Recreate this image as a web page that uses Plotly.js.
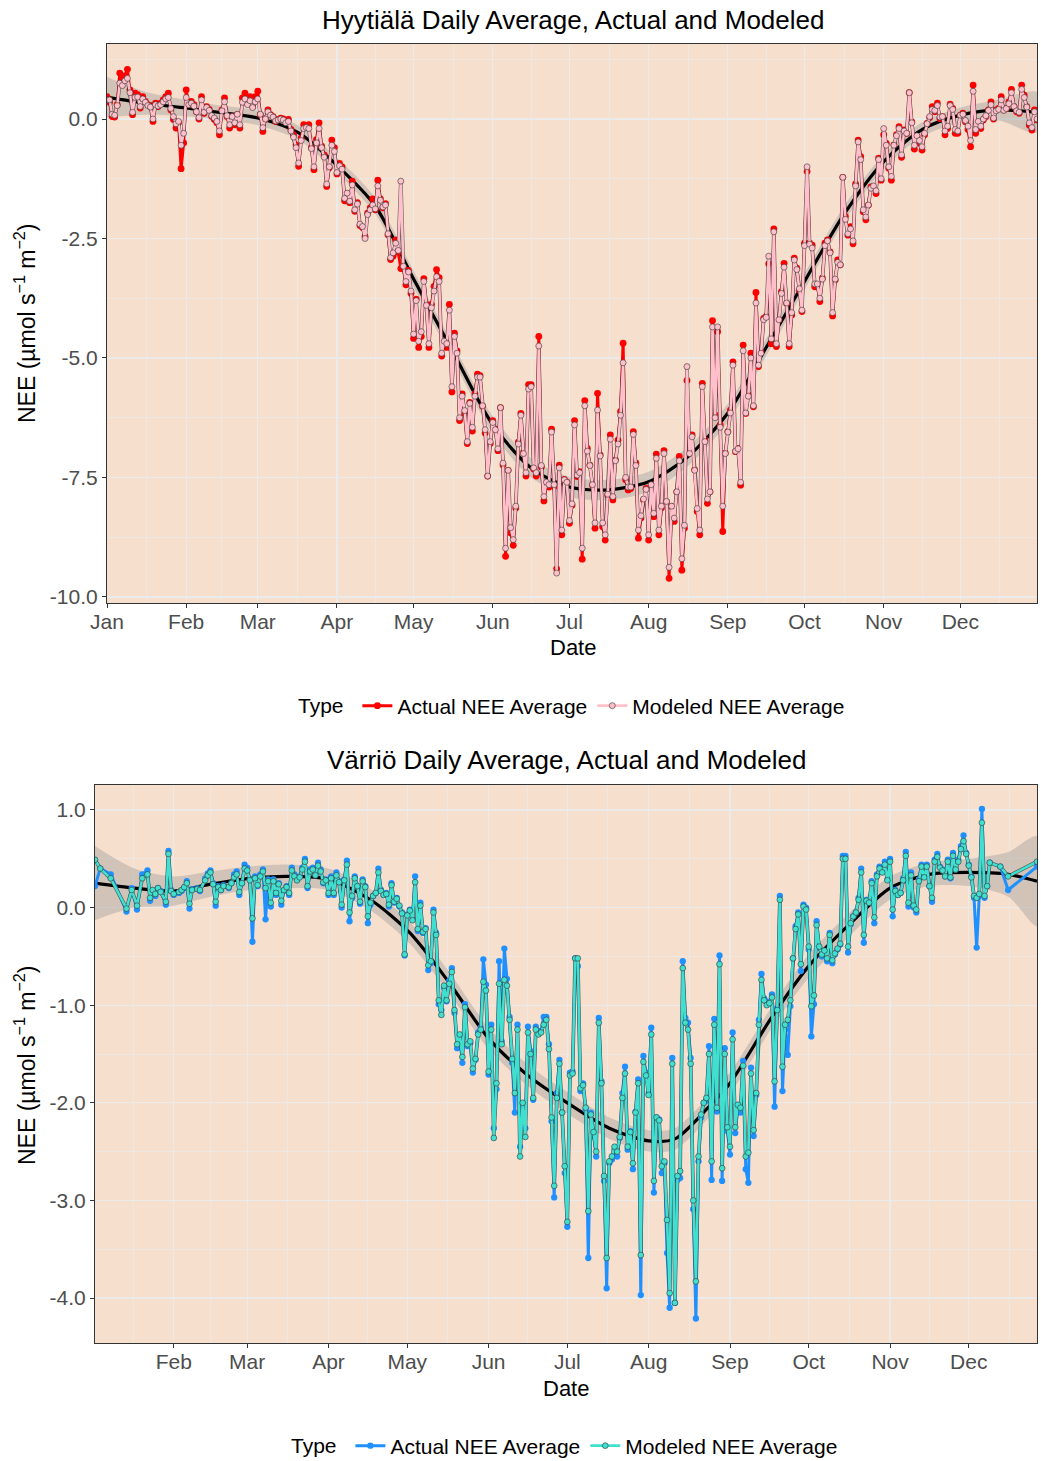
<!DOCTYPE html>
<html><head><meta charset="utf-8">
<script src="https://cdn.plot.ly/plotly-3.0.1.min.js"></script>
<style>html,body{margin:0;padding:0;background:#fff;width:1041px;height:1461px;overflow:hidden}#chart{display:block;width:1041px;height:1461px;overflow:hidden}</style>
</head><body><div id="chart"></div>
<script>
const YEAR = 2019;
const MONTH_LABELS = ['Jan','Feb','Mar','Apr','May','Jun','Jul','Aug','Sep','Oct','Nov','Dec'];
const HYY_Y_TICKS = [0, -2.5, -5, -7.5, -10];
const VAR_Y_TICKS = [1, 0, -1, -2, -3, -4];
const SERIES_NAMES = ['Actual NEE Average', 'Modeled NEE Average'];

// Hyytiälä daily values, day index 0 = Jan 1
const HYY_ACTUAL = [
0.47,0.35,0.05,0.04,0.30,0.96,0.82,0.90,1.04,0.61,
0.09,0.54,0.51,0.23,0.47,0.37,0.30,0.26,-0.05,0.33,
0.26,0.33,0.40,0.47,0.54,0.19,-0.01,-0.19,-0.08,-1.04,
-0.50,0.61,0.30,0.37,0.30,0.15,0.00,0.47,0.12,0.26,
0.20,0.05,-0.01,-0.08,-0.33,0.19,0.44,0.05,-0.19,0.05,
-0.12,0.09,-0.19,0.44,0.54,0.33,0.47,0.26,0.47,0.58,
0.09,-0.26,0.00,0.19,0.09,0.05,-0.05,-0.01,0.02,0.00,
-0.05,-0.01,-0.22,-0.33,-0.54,-0.99,-0.40,-0.12,-0.15,-0.12,
-0.60,-1.06,-0.43,-0.08,-0.57,-0.75,-1.41,-1.02,-0.44,-0.60,
-1.15,-0.93,-1.00,-1.71,-1.56,-1.75,-1.30,-1.93,-1.75,-2.23,
-2.27,-2.46,-1.97,-1.86,-1.67,-1.90,-1.28,-1.67,-1.86,-1.77,
-2.42,-2.94,-2.87,-2.53,-2.79,-3.13,-3.13,-3.47,-3.17,-3.65,
-4.59,-3.77,-4.78,-4.55,-3.34,-3.88,-4.78,-3.88,-3.50,-3.15,
-3.32,-4.96,-4.70,-4.78,-3.88,-5.71,-4.48,-4.85,-6.31,-5.75,
-6.16,-6.79,-5.93,-6.53,-5.75,-5.34,-5.37,-6.01,-6.57,-7.47,
-6.79,-6.31,-6.49,-6.94,-6.04,-7.24,-9.15,-7.35,-8.66,-8.92,
-8.14,-6.76,-6.16,-6.98,-7.47,-5.56,-5.56,-7.32,-7.47,-4.55,
-7.28,-7.99,-7.65,-7.70,-6.49,-7.69,-9.41,-7.24,-8.70,-7.54,
-7.60,-8.46,-8.08,-6.31,-7.48,-7.38,-9.21,-5.89,-6.89,-7.24,
-7.66,-8.56,-5.74,-7.03,-8.53,-8.81,-7.87,-6.61,-7.97,-7.13,
-6.72,-6.12,-4.69,-7.55,-7.76,-7.73,-6.54,-7.20,-8.77,-8.35,
-7.97,-7.73,-8.81,-7.66,-8.32,-7.01,-8.70,-8.14,-6.94,-8.01,
-9.61,-8.11,-8.42,-7.80,-7.06,-9.44,-8.56,-5.47,-6.99,-6.61,
-7.34,-8.21,-8.70,-5.53,-6.72,-8.04,-7.80,-4.22,-6.19,-4.45,
-6.40,-8.63,-6.99,-6.54,-6.09,-5.08,-6.96,-6.89,-7.66,-4.73,
-6.16,-5.77,-4.90,-6.02,-3.63,-5.18,-4.87,-4.17,-4.13,-3.03,
-4.70,-2.30,-4.76,-4.20,-3.61,-3.02,-3.86,-4.76,-4.10,-2.91,
-3.12,-3.58,-4.03,-2.60,-1.10,-2.60,-2.64,-3.51,-3.47,-3.82,
-3.33,-2.60,-2.53,-2.78,-4.12,-3.37,-2.95,-3.05,-1.22,-2.04,
-2.43,-2.25,-2.61,-1.36,-0.44,-0.79,-1.94,-2.11,-1.80,-1.42,
-1.42,-1.56,-0.82,-1.28,-0.33,-0.51,-1.03,-1.28,-0.54,-0.33,
-0.16,-0.80,-0.23,-0.30,0.55,-0.06,-0.63,-0.37,-0.51,-0.65,
-0.33,-0.09,0.03,0.26,0.15,0.33,0.01,0.05,-0.33,-0.20,
0.31,0.22,-0.30,-0.30,0.08,0.12,-0.06,-0.22,-0.58,0.71,
-0.30,-0.09,-0.20,-0.02,0.05,0.19,0.36,0.00,0.19,0.22,
0.47,0.19,0.22,0.36,0.62,0.26,0.15,0.12,0.71,0.50,
0.26,-0.13,-0.23,0.19,-0.02];

const HYY_MODELED = [
0.40,0.40,0.10,0.08,0.28,0.75,0.70,0.80,0.85,0.55,
0.14,0.45,0.46,0.26,0.42,0.35,0.28,0.25,0.00,0.30,
0.27,0.30,0.36,0.42,0.45,0.22,0.05,-0.10,-0.05,-0.55,
-0.30,0.45,0.30,0.33,0.27,0.15,0.03,0.40,0.14,0.24,
0.18,0.07,0.02,-0.05,-0.25,0.17,0.36,0.07,-0.12,0.05,
-0.08,0.10,-0.12,0.35,0.42,0.30,0.38,0.24,0.36,0.42,
0.10,-0.18,0.00,0.15,0.08,0.04,-0.04,-0.02,0.00,-0.02,
-0.08,-0.05,-0.25,-0.38,-0.60,-0.92,-0.45,-0.20,-0.18,-0.20,
-0.62,-1.00,-0.50,-0.20,-0.60,-0.80,-1.36,-1.00,-0.55,-0.68,
-1.12,-0.98,-1.05,-1.66,-1.55,-1.72,-1.38,-1.90,-1.78,-2.20,
-2.25,-2.50,-2.00,-1.90,-1.80,-1.88,-1.40,-1.70,-1.84,-1.80,
-2.40,-2.90,-2.80,-2.60,-2.75,-1.30,-3.08,-3.40,-3.20,-3.60,
-4.50,-3.80,-4.65,-4.45,-3.40,-3.90,-4.70,-3.95,-3.60,-3.30,
-3.40,-4.90,-4.65,-4.70,-4.00,-5.60,-4.55,-4.90,-6.25,-5.80,
-6.10,-6.75,-5.95,-6.45,-5.80,-5.40,-5.40,-6.00,-6.50,-7.47,
-6.75,-6.35,-6.50,-6.90,-6.04,-7.20,-8.98,-7.35,-8.55,-8.80,
-8.10,-6.80,-6.20,-7.00,-7.40,-5.65,-5.60,-7.30,-7.40,-4.75,
-7.25,-7.90,-7.60,-7.65,-6.55,-7.65,-9.50,-7.30,-8.60,-7.55,
-7.60,-8.40,-8.05,-6.40,-7.45,-7.40,-8.98,-6.00,-6.95,-7.25,
-7.65,-8.45,-6.09,-7.05,-8.45,-8.70,-7.85,-6.70,-7.90,-7.15,
-6.80,-6.20,-5.10,-7.50,-7.70,-7.70,-6.60,-7.25,-8.60,-8.30,
-7.95,-7.75,-8.70,-7.65,-8.25,-7.10,-8.60,-8.10,-7.00,-8.00,
-9.38,-8.10,-8.35,-7.80,-7.15,-9.20,-8.50,-5.18,-7.00,-6.65,
-7.35,-8.15,-8.60,-5.60,-6.75,-7.95,-7.80,-4.35,-6.25,-4.35,
-6.45,-8.10,-7.00,-6.55,-6.15,-5.15,-6.95,-6.90,-7.60,-4.85,
-6.15,-5.80,-5.00,-6.00,-3.85,-5.15,-4.90,-4.20,-4.15,-2.87,
-4.60,-2.36,-4.70,-4.20,-3.65,-3.10,-3.85,-4.70,-4.05,-2.95,
-3.15,-3.55,-4.00,-2.65,-1.00,-2.62,-2.70,-3.45,-3.45,-3.75,
-3.35,-2.65,-2.55,-2.80,-4.05,-3.35,-3.00,-3.05,-1.22,-2.10,
-2.40,-2.30,-2.55,-1.40,-0.48,-0.85,-1.90,-2.05,-1.80,-1.45,
-1.40,-1.50,-0.85,-1.25,-0.20,-0.55,-1.00,-1.20,-0.55,-0.35,
-0.20,-0.75,-0.25,-0.30,0.55,-0.08,-0.55,-0.35,-0.45,-0.58,
-0.30,-0.10,0.05,0.20,0.18,0.28,0.04,0.05,-0.25,-0.15,
0.28,0.20,-0.22,-0.25,0.08,0.10,-0.03,-0.15,-0.45,0.58,
-0.22,-0.05,-0.15,0.00,0.07,0.18,0.30,0.02,0.17,0.20,
0.40,0.18,0.22,0.32,0.55,0.26,0.17,0.14,0.62,0.45,
0.25,-0.08,-0.18,0.15,0.00];

const HYY_SMOOTH_DAY = [0,15,31,45,59,75,90,105,120,135,151,166,181,196,212,227,243,258,273,288,304,319,334,349,364];
const HYY_SMOOTH_FIT = [0.46,0.33,0.23,0.13,0.02,-0.29,-0.97,-1.82,-3.35,-4.83,-6.40,-7.30,-7.70,-7.76,-7.59,-7.08,-6.15,-4.78,-3.40,-2.03,-0.89,-0.22,0.08,0.19,0.14];
const HYY_SMOOTH_SE  = [0.42,0.24,0.17,0.15,0.15,0.15,0.16,0.17,0.17,0.17,0.18,0.20,0.21,0.21,0.21,0.20,0.19,0.18,0.17,0.16,0.15,0.15,0.16,0.22,0.42];

// Värriö daily values, day index 0 = Jan 1 (null = no observation)
const VAR_ACTUAL = [
null,0.22,null,0.40,null,null,null,0.34,null,null,
null,null,null,-0.04,null,0.20,null,-0.02,null,0.34,
null,0.38,0.07,0.17,0.12,0.20,0.17,null,0.03,0.58,
0.18,0.13,null,0.15,0.17,0.20,0.27,-0.01,0.19,null,
0.20,0.17,null,0.30,0.35,0.38,0.25,0.02,0.22,0.18,
0.23,null,0.20,0.25,0.34,0.37,0.13,0.25,0.44,0.41,
0.29,-0.35,0.32,0.22,0.34,0.39,-0.12,0.29,0.01,0.29,
0.13,0.25,0.03,0.17,0.22,0.13,0.41,0.34,0.29,0.32,
0.41,0.50,0.20,0.39,0.41,0.34,0.46,0.39,0.25,0.29,
0.13,0.32,0.13,0.36,0.27,0.00,0.29,0.48,-0.14,0.10,
0.32,0.22,0.04,0.29,0.22,-0.16,0.03,0.12,0.15,0.40,
0.18,0.13,0.15,0.01,0.25,0.05,0.10,0.01,-0.05,-0.49,
-0.07,-0.02,-0.12,0.32,-0.24,0.05,-0.26,-0.21,-0.64,-0.57,
-0.02,-0.26,-0.99,-1.05,-0.82,-0.96,-0.75,-0.62,-1.08,-1.44,
-1.32,-1.59,-0.99,-1.42,-1.39,-1.69,-1.56,-1.28,-1.23,-0.53,
-0.79,-1.71,-1.20,-2.26,-1.86,-0.55,-1.37,-0.42,-0.73,-1.12,
-1.59,-2.10,-1.20,-2.45,-2.02,-2.26,-1.22,-1.47,-1.97,-1.22,
-1.28,-1.26,-1.12,-1.12,-1.40,-2.19,-2.97,-1.90,-1.56,-2.10,
-2.72,-3.27,-1.69,-1.68,-0.52,-0.60,-1.88,-1.80,-2.07,-3.59,
-2.10,-2.34,-2.55,-1.13,-1.78,-2.80,-3.90,-2.62,-2.58,-2.48,
-2.55,-2.36,-1.90,-1.63,-2.48,-2.29,-2.68,-2.09,-1.76,-3.97,
-1.52,-1.69,-1.90,-1.23,-2.92,-2.15,-2.17,-2.72,-2.62,-3.54,
-4.10,-1.54,-4.05,-2.79,-2.77,-0.55,-1.13,-1.18,-1.54,-3.09,
-4.21,-2.60,-2.15,-2.00,-1.98,-1.42,-2.79,-1.14,-2.09,-0.49,
-2.80,-1.44,-2.29,-2.53,-1.28,-2.31,-2.04,-2.10,-1.57,-2.68,
-2.82,-1.64,-2.34,-1.92,-1.15,-0.68,-0.93,-0.96,-0.98,-0.89,
-2.04,-1.03,0.12,-1.88,-1.25,-1.51,-1.01,-0.52,-0.19,-0.05,
-0.65,0.03,0.00,-0.43,-1.32,-0.99,-0.14,-0.41,-0.50,-0.45,
-0.55,-0.26,-0.57,-0.48,-0.43,-0.38,0.53,0.53,-0.46,-0.17,
-0.09,-0.05,0.10,0.40,-0.36,0.08,0.05,0.27,-0.16,0.34,
0.42,0.37,0.47,0.29,0.50,-0.09,0.18,0.13,0.15,0.30,
0.57,0.01,0.36,0.00,-0.05,0.29,0.44,0.32,0.44,0.22,
0.06,0.49,0.55,0.42,0.39,0.32,0.49,0.30,0.56,0.39,
0.49,0.63,0.74,0.56,0.44,0.32,0.10,-0.41,0.12,1.01,
0.10,0.22,0.46,null,null,null,0.42,null,null,0.18,
null,null,null,null,null,null,null,null,null,null,
0.42,null,null,null,null];

const VAR_MODELED = [
null,0.49,null,0.40,null,null,null,0.30,null,null,
null,null,null,-0.01,null,0.18,null,0.02,null,0.30,
null,0.34,0.10,0.18,0.14,0.20,0.16,null,0.06,0.55,
0.17,0.14,null,0.16,0.18,0.21,0.25,0.04,0.18,null,
0.19,0.18,null,0.28,0.33,0.36,0.24,0.06,0.21,0.18,
0.22,null,0.21,0.25,0.31,0.34,0.16,0.25,0.40,0.38,
0.28,-0.11,0.30,0.23,0.32,0.37,0.20,0.27,0.05,0.27,
0.15,0.24,0.07,0.18,0.21,0.15,0.38,0.32,0.28,0.31,
0.39,0.47,0.22,0.37,0.39,0.33,0.43,0.37,0.26,0.28,
0.15,0.30,0.15,0.33,0.26,0.03,0.28,0.44,-0.05,0.12,
0.30,0.22,0.06,0.27,0.21,-0.09,0.05,0.12,0.15,0.36,
0.17,0.13,0.14,0.03,0.23,0.06,0.09,0.02,-0.06,-0.48,
-0.08,-0.03,-0.13,0.26,-0.22,0.02,-0.25,-0.22,-0.59,-0.55,
-0.05,-0.28,-0.95,-1.10,-0.80,-0.95,-0.78,-0.66,-1.05,-1.40,
-1.30,-1.53,-1.02,-1.40,-1.37,-1.65,-1.55,-1.30,-1.25,-0.76,
-0.85,-1.68,-1.25,-2.36,-1.80,-0.78,-1.40,-0.74,-0.80,-1.15,
-1.55,-1.90,-1.25,-2.55,-2.00,-2.35,-1.28,-1.50,-1.95,-1.25,
-1.30,-1.28,-1.20,-1.15,-1.45,-2.15,-2.85,-1.95,-1.60,-2.10,
-2.65,-3.22,-1.72,-1.70,-0.52,-0.52,-1.85,-1.82,-2.05,-3.11,
-2.12,-2.30,-2.50,-1.18,-1.80,-2.75,-3.59,-2.60,-2.55,-2.45,
-2.50,-2.35,-1.95,-1.70,-2.45,-2.30,-2.62,-2.10,-1.80,-3.56,
-1.58,-1.72,-1.92,-1.30,-2.80,-2.15,-2.18,-2.65,-2.60,-3.20,
-3.95,-1.60,-4.05,-2.75,-2.70,-0.62,-1.18,-1.25,-1.60,-3.00,
-3.83,-2.55,-2.12,-2.00,-1.95,-1.50,-2.60,-1.20,-2.05,-0.58,
-2.67,-1.50,-2.25,-2.45,-1.35,-2.25,-2.02,-2.05,-1.62,-2.55,
-2.51,-1.70,-2.28,-1.90,-1.20,-0.74,-0.95,-1.00,-0.98,-0.92,
-1.78,-1.05,0.08,-1.63,-1.20,-1.15,-0.95,-0.52,-0.22,-0.07,
-0.58,0.01,-0.02,-0.40,-1.01,-0.90,-0.18,-0.40,-0.48,-0.44,
-0.52,-0.28,-0.54,-0.47,-0.42,-0.37,0.50,0.50,-0.40,-0.16,
-0.09,-0.05,0.08,0.36,-0.28,0.07,0.05,0.25,-0.10,0.32,
0.40,0.36,0.44,0.28,0.47,-0.02,0.17,0.13,0.15,0.28,
0.53,0.05,0.33,0.02,-0.02,0.27,0.42,0.31,0.42,0.22,
0.10,0.47,0.52,0.41,0.38,0.32,0.47,0.31,0.53,0.39,
0.47,0.60,0.68,0.55,0.43,0.31,0.12,0.10,0.14,0.87,
0.12,0.22,0.46,null,null,null,0.42,null,null,0.32,
null,null,null,null,null,null,null,null,null,null,
0.47,null,null,null,null];

const VAR_SMOOTH_DAY = [1,16,31,45,60,75,90,106,121,136,151,166,181,197,212,222,235,243,259,273,289,304,319,334,349,360];
const VAR_SMOOTH_FIT = [0.25,0.20,0.17,0.24,0.30,0.32,0.29,0.08,-0.26,-0.77,-1.34,-1.72,-2.00,-2.26,-2.39,-2.37,-2.04,-1.80,-1.12,-0.60,-0.16,0.20,0.34,0.36,0.34,0.27];
const VAR_SMOOTH_SE  = [0.38,0.20,0.15,0.13,0.12,0.12,0.11,0.11,0.11,0.11,0.11,0.11,0.11,0.11,0.11,0.11,0.11,0.11,0.11,0.12,0.12,0.12,0.12,0.14,0.23,0.46];

// ---------- helpers ----------
function pad(n){return (n<10?'0':'')+n;}
function fmtMs(ms){const d=new Date(ms);return d.getUTCFullYear()+'-'+pad(d.getUTCMonth()+1)+'-'+pad(d.getUTCDate())+' '+pad(d.getUTCHours())+':'+pad(d.getUTCMinutes());}
function dayToDate(i){return fmtMs(Date.UTC(YEAR,0,1)+i*86400000);}
const dates = HYY_ACTUAL.map((_,i)=>dayToDate(i));
const monthStartMs = MONTH_LABELS.map((_,m)=>Date.UTC(YEAR,m,1));
const monthTicks = monthStartMs.map(fmtMs);
const minorX = monthStartMs.map((ms,m)=>fmtMs((ms+(m<11?monthStartMs[m+1]:Date.UTC(YEAR+1,0,1)))/2));
function minorY(t){const s=[...t].sort((a,b)=>a-b);const out=[];for(let i=0;i<s.length-1;i++)out.push((s[i]+s[i+1])/2);const st=s[1]-s[0];out.push(s[0]-st/2);out.push(s[s.length-1]+st/2);return out;}

const FONT='Liberation Sans, Arial, Helvetica, sans-serif';
const GRID='#EBEBEB';
const BG='rgb(247,223,206)';

function bandTrace(days,fit,se,xa,ya){
  const xs=days.map(dayToDate), xr=[...xs].reverse();
  const up=fit.map((v,i)=>v+se[i]), lo=fit.map((v,i)=>v-se[i]).reverse();
  return {x:xs.concat(xr),y:up.concat(lo),xaxis:xa,yaxis:ya,type:'scatter',mode:'lines',fill:'toself',
    fillcolor:'rgba(153,153,153,0.4)',line:{width:0,shape:'spline',smoothing:0.8},hoverinfo:'skip',showlegend:false};
}
function smoothTrace(days,fit,xa,ya){
  return {x:days.map(dayToDate),y:fit,xaxis:xa,yaxis:ya,type:'scatter',mode:'lines',
    line:{color:'#000',width:3.2,shape:'spline',smoothing:0.8},hoverinfo:'skip',showlegend:false};
}
function seriesTraces(vals,name,color,xa,ya,leg,outline,w,ms){
  const tr=[];
  if(outline){
    tr.push({x:dates,y:vals,xaxis:xa,yaxis:ya,type:'scatter',mode:'lines',connectgaps:true,
      line:{color:'rgba(50,50,50,0.75)',width:w+1.1},showlegend:false,hoverinfo:'skip'});
  }
  tr.push({x:dates,y:vals,xaxis:xa,yaxis:ya,type:'scatter',mode:'lines+markers',connectgaps:true,name:name,legend:leg,
    line:{color:color,width:w},marker:{color:color,size:ms,line:{color:outline?'rgba(50,50,50,0.85)':color,width:outline?0.7:0}}});
  return tr;
}

const traces=[
  bandTrace(HYY_SMOOTH_DAY,HYY_SMOOTH_FIT,HYY_SMOOTH_SE,'x','y'),
  smoothTrace(HYY_SMOOTH_DAY,HYY_SMOOTH_FIT,'x','y'),
  ...seriesTraces(HYY_ACTUAL,SERIES_NAMES[0],'#FF0000','x','y','legend',false,3.0,6.8),
  ...seriesTraces(HYY_MODELED,SERIES_NAMES[1],'#FFC0CB','x','y','legend',true,2.6,6),
  bandTrace(VAR_SMOOTH_DAY,VAR_SMOOTH_FIT,VAR_SMOOTH_SE,'x2','y2'),
  smoothTrace(VAR_SMOOTH_DAY,VAR_SMOOTH_FIT,'x2','y2'),
  ...seriesTraces(VAR_ACTUAL,SERIES_NAMES[0],'#1E90FF','x2','y2','legend2',false,3.0,6.3),
  ...seriesTraces(VAR_MODELED,SERIES_NAMES[1],'#40E0D0','x2','y2','legend2',true,2.6,5.8)
];

function xAxis(range,dom,anchor){
  return {type:'date',range:range,domain:dom,anchor:anchor,tickmode:'array',tickvals:monthTicks,ticktext:MONTH_LABELS,
    ticks:'outside',ticklen:4,tickwidth:1,tickcolor:'#333',tickfont:{size:21,color:'#4D4D4D',family:FONT},ticklabelstandoff:-4,
    showgrid:true,gridcolor:GRID,gridwidth:1.3,zeroline:false,showline:true,mirror:true,linecolor:'#333',linewidth:1.1,
    minor:{tickmode:'array',tickvals:minorX,showgrid:true,gridcolor:GRID,gridwidth:0.7,ticks:''}};
}
function yAxis(range,dom,anchor,tv){
  return {range:range,domain:dom,anchor:anchor,tickmode:'array',tickvals:tv,ticktext:tv.map(v=>v.toFixed(1)),
    ticks:'outside',ticklen:4,tickwidth:1,tickcolor:'#333',tickfont:{size:21,color:'#4D4D4D',family:FONT},
    showgrid:true,gridcolor:GRID,gridwidth:1.3,zeroline:false,showline:true,mirror:true,linecolor:'#333',linewidth:1.1,
    minor:{tickmode:'array',tickvals:minorY(tv),showgrid:true,gridcolor:GRID,gridwidth:0.7,ticks:''}};
}
const W=1041,H=1461;
const px=x=>x/W, py=y=>(H-y)/H;
function ann(text,x,y,size,angle){return {text:text,x:px(x),y:py(y),xref:'paper',yref:'paper',showarrow:false,
  xanchor:'center',yanchor:'middle',textangle:angle||0,font:{size:size,color:'#000',family:FONT}};}
const yTitle='NEE (µmol s<sup>−1</sup> m<sup>−2</sup>)';
function legendDef(x,y){return {orientation:'h',x:px(x),xanchor:'center',y:py(y),yanchor:'middle',
  font:{size:21,color:'#000',family:FONT},title:{text:'Type ',side:'left',font:{size:21,color:'#000',family:FONT}},
  bgcolor:'rgba(0,0,0,0)',itemwidth:30,tracegroupgap:0};}

const layout={
  width:W,height:H,margin:{l:0,r:0,t:0,b:0,autoexpand:false},paper_bgcolor:'#fff',plot_bgcolor:BG,
  font:{family:FONT},showlegend:true,
  xaxis:xAxis([dayToDate(0),dayToDate(364)],[px(107),px(1037)],'y'),
  yaxis:yAxis([-10.126,1.569],[py(603),py(44)],'x',HYY_Y_TICKS),
  xaxis2:xAxis([dayToDate(1),dayToDate(360)],[px(95),px(1037)],'y2'),
  yaxis2:yAxis([-4.461,1.256],[py(1343),py(785)],'x2',VAR_Y_TICKS),
  legend:legendDef(573,706),
  legend2:legendDef(566,1446),
  annotations:[
    ann('Hyytiälä Daily Average, Actual and Modeled',572.5,20,26),
    ann('Värriö Daily Average, Actual and Modeled',566,760,26),
    ann('Date',573,647,22),
    ann('Date',566,1388,22),
    ann(yTitle,25,323,23,-90),
    ann(yTitle,25,1065,23,-90)
  ]
};
Plotly.newPlot('chart',traces,layout,{displayModeBar:false,staticPlot:true});
</script></body></html>
